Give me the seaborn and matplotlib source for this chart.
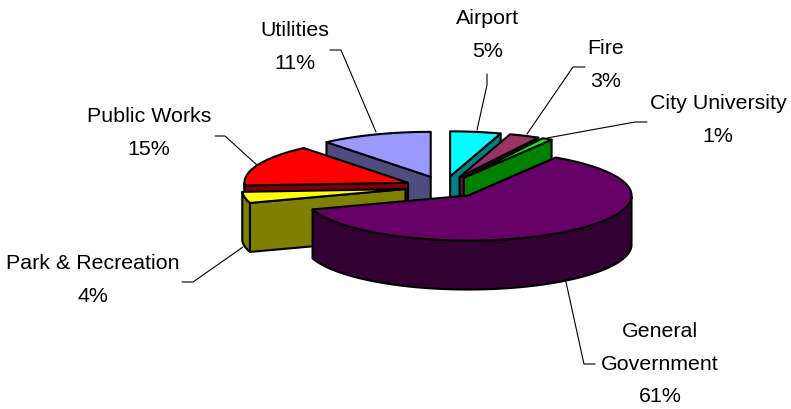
import numpy as np
import matplotlib
matplotlib.use("Agg")
import matplotlib.pyplot as plt
import seaborn as sns

# Budget shares, clockwise from twelve o'clock
labels = ["Airport", "Fire", "City University", "General\nGovernment",
          "Park & Recreation", "Public Works", "Utilities"]
shares = [5, 3, 1, 61, 4, 15, 11]

top_colors = ["#00FFFF", "#993366", "#00FF00", "#660066", "#FFFF00", "#FF0000", "#9999FF"]
wall_colors = ["#008080", "#4D1933", "#008000", "#330033", "#808000", "#800000", "#4D4D80"]

# Label centres and leader polylines, in pixel units of the canvas
label_pos = [(488, 35), (606, 65), (718, 120), (660, 364), (93, 280), (149, 133), (295, 47)]
leaders = [
    [(487, 74), (487, 85), (477, 130)],
    [(585, 67), (573, 67), (527, 134)],
    [(647, 122), (635, 122), (547, 138)],
    [(595, 364), (584, 364), (566, 282)],
    [(182, 282), (193, 282), (243, 247)],
    [(215, 136), (225, 136), (258, 166)],
    [(330, 50), (341, 50), (376, 132)],
]

CX, CY = 444, 187      # pie centre
RX, RY = 163.5, 45     # ellipse radii of the tilted disc
DEPTH = 49             # extruded height
EXPLODE = 0.24         # slice offset as a fraction of the radius
EDGE = 1.5

sns.set_theme(style="white")
plt.rcParams["font.family"] = ["Liberation Sans", "DejaVu Sans"]
tops = sns.color_palette(top_colors)
walls = sns.color_palette(wall_colors)

fig = plt.figure(figsize=(7.91, 4.09), dpi=100)
ax = fig.add_axes([0, 0, 1, 1])
ax.set_xlim(0, 791)
ax.set_ylim(409, 0)
ax.axis("off")


def rim(apex, angle):
    """Point on the outer rim of a slice whose apex is given; angle in radians."""
    return apex[0] + RX * np.cos(angle), apex[1] - RY * np.sin(angle)


def face(xs, ys, color, z):
    ax.fill(xs, ys, facecolor=color, edgecolor="black", linewidth=EDGE,
            joinstyle="round", zorder=z)


def draw_slice(hi_deg, lo_deg, top, wall, z):
    """One extruded wedge spanning lo_deg..hi_deg, with only its visible faces."""
    mid = np.radians((hi_deg + lo_deg) / 2)
    apex = (CX + EXPLODE * RX * np.cos(mid), CY - EXPLODE * RY * np.sin(mid))
    hi, lo = np.radians(hi_deg), np.radians(lo_deg)

    # Radial cut walls
    for ang, visible in ((hi, np.cos(hi) < -1e-6), (lo, np.cos(lo) > 1e-6)):
        if visible:
            rx, ry = rim(apex, ang)
            face([apex[0], rx, rx, apex[0]],
                 [apex[1], ry, ry + DEPTH, apex[1] + DEPTH], wall, z)

    # Outer curved wall: only the front half of the disc shows
    arc = np.radians(np.linspace(lo_deg, hi_deg, 120))
    front = arc[np.sin(arc) <= 0]
    if front.size > 1:
        ax_, ay_ = rim(apex, front)
        face(np.r_[ax_, ax_[::-1]], np.r_[ay_, ay_[::-1] + DEPTH], wall, z)

    # Top surface
    tx, ty = rim(apex, arc)
    face(np.r_[apex[0], tx], np.r_[apex[1], ty], top, z + 0.5)


start = 90.0
for i, (share, top, wall) in enumerate(zip(shares, tops, walls)):
    sweep = share * 3.6
    # Painter's order: the large front slice goes last
    order = {"General\nGovernment": 10, "Park & Recreation": 6, "Public Works": 5,
             "Utilities": 1}.get(labels[i], 2 + i)
    draw_slice(start, start - sweep, top, wall, order)
    start -= sweep

for name, share, pos, leader in zip(labels, shares, label_pos, leaders):
    ax.text(pos[0], pos[1], f"{name}\n{share}%", ha="center", va="center",
            fontsize=15.4, color="black", linespacing=1.92, zorder=20)
    lx, ly = zip(*leader)
    ax.plot(lx, ly, color="black", linewidth=0.8, zorder=0.5)

fig.savefig("out.png", dpi=100, facecolor="white")
